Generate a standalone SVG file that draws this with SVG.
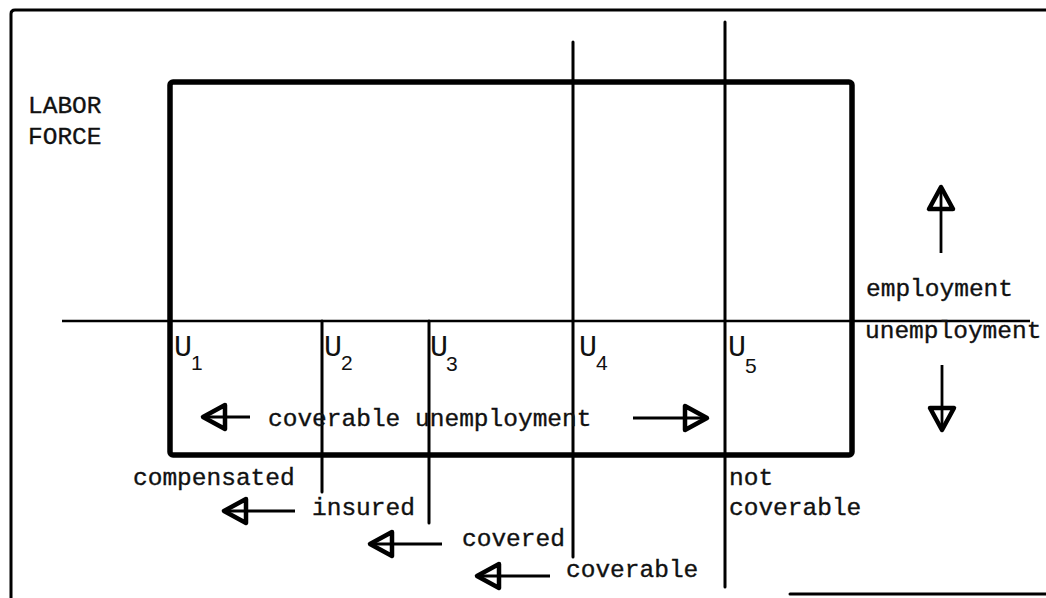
<svg xmlns="http://www.w3.org/2000/svg" width="1046" height="598" viewBox="0 0 1046 598">
<style>
.t{font-family:"Liberation Mono","Courier New",monospace;font-size:24.5px;fill:#111;stroke:#111;stroke-width:0.35;}
.u{font-family:"Liberation Mono","Courier New",monospace;font-size:30px;fill:#111;}
.s{font-family:"Liberation Sans",Arial,sans-serif;font-size:21px;fill:#111;}
.thin{stroke:#000;stroke-width:3;fill:none;stroke-linecap:round;}
.axis{stroke:#000;stroke-width:2.5;fill:none;}
.arr{stroke:#000;stroke-width:2.8;fill:none;marker-end:url(#ah);}
</style>
<defs>
<marker id="ah" markerUnits="userSpaceOnUse" markerWidth="32" markerHeight="32" refX="27" refY="16" orient="auto" overflow="visible">
<path d="M27,16 L5,4 L5,28 Z" fill="none" stroke="#000" stroke-width="4.5" stroke-linejoin="round"/>
</marker>
</defs>
<rect width="1046" height="598" fill="#fff"/>
<g id="frame">
<path d="M11,598 L11,14 Q11,10 15,10 L1046,10" class="thin"/>
<path d="M790,594 L1046,594" class="thin"/>
</g>
<g id="labor-force">
<rect x="170" y="82" width="682" height="373" rx="3" fill="none" stroke="#000" stroke-width="5.5"/>
<text class="t" x="28" y="113">LABOR</text>
<text class="t" x="28" y="144">FORCE</text>
</g>
<g id="connectors">
<path d="M62,321 L1030,321" class="axis"/>
<path d="M322,321 L322,492" class="thin"/>
<path d="M429,321 L429,523" class="thin"/>
<path d="M573,42 L573,557" class="thin"/>
<path d="M725,22 L725,587" class="thin"/>
<path d="M250,417 L203,417" class="arr"/>
<path d="M633,418 L707,418" class="arr"/>
<path d="M295,511 L224,511" class="arr"/>
<path d="M442,544 L370,544" class="arr"/>
<path d="M550,576 L477,576" class="arr"/>
<path d="M941,253 L941,187" class="arr"/>
<path d="M942,365 L942,430" class="arr"/>
</g>
<g id="u1"><text class="u" x="174" y="356">U</text><text class="s" x="191" y="370">1</text></g>
<g id="u2"><text class="u" x="324" y="356">U</text><text class="s" x="341" y="370">2</text></g>
<g id="u3"><text class="u" x="430" y="356">U</text><text class="s" x="446" y="371">3</text></g>
<g id="u4"><text class="u" x="579" y="356">U</text><text class="s" x="596" y="370">4</text></g>
<g id="u5"><text class="u" x="728" y="356">U</text><text class="s" x="745" y="373">5</text></g>
<g id="coverable-unemployment"><text class="t" x="268" y="426">coverable unemployment</text></g>
<g id="employment"><text class="t" x="866" y="296">employment</text></g>
<g id="unemployment"><text class="t" x="865" y="338">unemployment</text></g>
<g id="compensated"><text class="t" x="133" y="485">compensated</text></g>
<g id="insured"><text class="t" x="312" y="515">insured</text></g>
<g id="covered"><text class="t" x="462" y="546">covered</text></g>
<g id="coverable"><text class="t" x="566" y="577">coverable</text></g>
<g id="not-coverable"><text class="t" x="729" y="485">not</text><text class="t" x="729" y="515">coverable</text></g>
</svg>
